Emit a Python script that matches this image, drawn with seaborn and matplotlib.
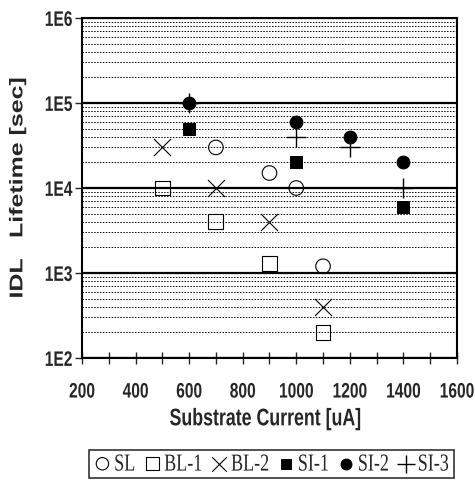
import matplotlib
matplotlib.use("Agg")
import matplotlib.pyplot as plt
import matplotlib.ticker as mticker
from matplotlib.text import Text
from matplotlib.transforms import Affine2D
from matplotlib.patheffects import AbstractPathEffect
import seaborn as sns
import numpy as np

# data
sl_x = [700, 900, 1000, 1100]
sl_y = [3e4, 1.5e4, 1e4, 1.2e3]
bl1_x = [500, 700, 900, 1100]
bl1_y = [1e4, 4e3, 1.3e3, 2e2]
bl2_x = [500, 700, 900, 1100]
bl2_y = [3e4, 1e4, 4e3, 4e2]
si1_x = [600, 1000, 1400]
si1_y = [5e4, 2e4, 6e3]
si2_x = [600, 1000, 1200, 1400]
si2_y = [1e5, 6e4, 4e4, 2e4]
si3_x = [600, 1000, 1200, 1400]
si3_y = [1e5, 4e4, 3e4, 1e4]


class VStretch(AbstractPathEffect):
    """stretch glyphs vertically (the scanned original is taller than wide)"""
    def __init__(self, k=1.35):
        super().__init__()
        self.k = k

    def draw_path(self, renderer, gc, tpath, affine, rgbFace=None):
        bb = tpath.get_extents(affine)
        cy = 0.5 * (bb.y0 + bb.y1)
        t = affine + Affine2D().translate(0, -cy).scale(1, self.k).translate(0, cy)
        renderer.draw_path(gc, tpath, t, rgbFace)


sns.set_style("ticks")
plt.rcParams["font.family"] = ["Liberation Sans", "DejaVu Sans"]

fig = plt.figure(figsize=(4.75, 4.86), dpi=100)
ax = fig.add_axes([0.1726, 0.2634, 0.7894, 0.6996])

sns.scatterplot(x=sl_x, y=sl_y, ax=ax, marker="o", s=110, facecolor="none",
                edgecolor="black", linewidth=0.8, label="SL", zorder=3)
sns.scatterplot(x=bl1_x, y=bl1_y, ax=ax, marker="s", s=115, facecolor="none",
                edgecolor="black", linewidth=0.8, label="BL-1", zorder=3)
sns.scatterplot(x=bl2_x, y=bl2_y, ax=ax, marker="x", s=150, color="black",
                linewidth=0.8, label="BL-2", zorder=3)
sns.scatterplot(x=si1_x, y=si1_y, ax=ax, marker="s", s=72, color="black",
                edgecolor="black", label="SI-1", zorder=3)
sns.scatterplot(x=si2_x, y=si2_y, ax=ax, marker="o", s=85, color="black",
                edgecolor="black", label="SI-2", zorder=3)
sns.scatterplot(x=si3_x, y=si3_y, ax=ax, marker="+", s=210, color="black",
                linewidth=1.0, label="SI-3", zorder=3)

ax.set_yscale("log")
ax.set_xlim(200, 1600)
ax.set_ylim(1e2, 1e6)

ax.xaxis.set_major_locator(mticker.MultipleLocator(200))
ax.xaxis.set_minor_locator(mticker.MultipleLocator(100))
ax.yaxis.set_major_locator(mticker.LogLocator(base=10))
ax.yaxis.set_minor_locator(mticker.LogLocator(base=10, subs=np.arange(2, 10)))
ax.yaxis.set_major_formatter(mticker.FuncFormatter(lambda v, p: "1E%d" % round(np.log10(v))))
ax.yaxis.set_minor_formatter(mticker.NullFormatter())

ax.grid(True, which="major", axis="y", color="black", linewidth=1.6)
ax.grid(True, which="minor", axis="y", color="black", linewidth=0.7, linestyle=(0, (1.5, 1.5)))
ax.set_axisbelow(True)

for s in ax.spines.values():
    s.set_linewidth(1.5)
    s.set_color("black")

ax.tick_params(axis="x", which="both", direction="inout", length=9, width=1.0,
               labelsize=11.2, pad=14)
ax.tick_params(axis="y", which="major", direction="out", length=5, width=1.0,
               labelsize=11.2, pad=2)
ax.tick_params(axis="y", which="minor", length=0)
for lab in ax.get_xticklabels() + ax.get_yticklabels():
    lab.set_fontweight("bold")

ax.set_xlabel("Substrate Current [uA]", fontsize=12.8, fontweight="bold", va="center")
ax.xaxis.set_label_coords(0.49, -0.18)
ax.set_ylabel("IDL   Lifetime [sec]", fontsize=13.3, fontweight="bold", va="center")
ax.yaxis.set_label_coords(-0.171, 0.5)

handles, labels = ax.get_legend_handles_labels()
ax.legend_.remove()
leg = fig.legend(handles, labels, loc="center", bbox_to_anchor=(0.5716, 0.0453),
                 ncol=6, frameon=True, fancybox=False, edgecolor="black",
                 handletextpad=0.2, columnspacing=0.5, handlelength=0.9,
                 markerscale=0.85, borderpad=0.3, borderaxespad=0,
                 prop={"family": "Liberation Serif", "size": 13})
leg.get_frame().set_linewidth(1.2)

fig.canvas.draw()
for t in fig.findobj(Text):
    t.set_path_effects([VStretch(1.35)])

fig.savefig("out.png", dpi=100)
